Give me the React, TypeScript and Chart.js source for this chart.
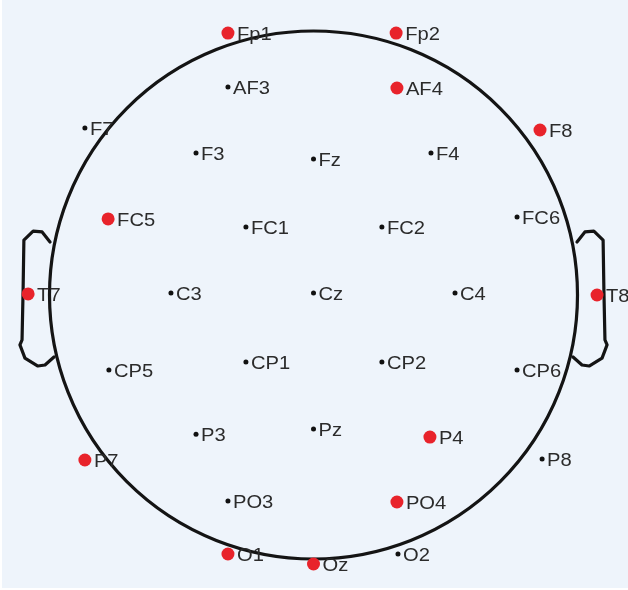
import React, { useEffect, useRef } from "react";
import { Chart, registerables } from "chart.js";

Chart.register(...registerables);

// Electrode layout (normalized head coordinates: centre 0,0, head radius 1, +y = front)
const electrodeNames = [
  "Fp1", "Fp2", "AF3", "AF4", "F7", "F3", "Fz", "F4", "F8",
  "FC5", "FC1", "FC2", "FC6", "T7", "C3", "Cz", "C4", "T8",
  "CP5", "CP1", "CP2", "CP6", "P7", "P3", "Pz", "P4", "P8",
  "PO3", "PO4", "O1", "Oz", "O2",
];
const electrodeX = [
  -0.324, 0.313, -0.324, 0.316, -0.866, -0.445, 0.0, 0.445, 0.858,
  -0.778, -0.256, 0.259, 0.771, -1.081, -0.540, 0.0, 0.536, 1.074,
  -0.775, -0.256, 0.259, 0.771, -0.866, -0.445, 0.0, 0.441, 0.866,
  -0.324, 0.316, -0.324, 0.0, 0.320,
];
const electrodeY = [
  0.992, 0.992, 0.788, 0.784, 0.633, 0.538, 0.515, 0.538, 0.625,
  0.288, 0.258, 0.258, 0.295, 0.004, 0.008, 0.008, 0.008, 0.0,
  -0.284, -0.254, -0.254, -0.284, -0.625, -0.527, -0.508, -0.538, -0.621,
  -0.780, -0.784, -0.981, -1.019, -0.981,
];
const selected = [
  1, 1, 0, 1, 0, 0, 0, 0, 1,
  1, 0, 0, 0, 1, 0, 0, 0, 1,
  0, 0, 0, 0, 1, 0, 0, 1, 0,
  0, 1, 1, 1, 0,
];

// Ear outline (left ear; right ear mirrored)
const earX = [-0.998, -1.028, -1.062, -1.097, -1.100, -1.104, -1.112, -1.093, -1.044, -1.017, -0.983];
const earY = [0.201, 0.239, 0.242, 0.208, 0.019, -0.170, -0.189, -0.239, -0.269, -0.265, -0.235];

const headRadius = 1;

export default function App() {
  const ref = useRef<HTMLCanvasElement | null>(null);

  useEffect(() => {
    if (!ref.current) return;
    const pts = (flag: number) =>
      electrodeNames
        .map((n, i) => ({ x: electrodeX[i], y: electrodeY[i], name: n, s: selected[i] }))
        .filter((p) => p.s === flag);

    const headPlugin = {
      id: "head",
      beforeDatasetsDraw(chart: any) {
        const { ctx, scales } = chart;
        const xs = scales.x, ys = scales.y;
        const cx = xs.getPixelForValue(0);
        const cy = ys.getPixelForValue(0);
        const r = xs.getPixelForValue(headRadius) - cx;
        ctx.save();
        ctx.strokeStyle = "#141414";
        ctx.lineWidth = 3.2;
        ctx.lineJoin = "round";
        ctx.lineCap = "round";
        for (const side of [-1, 1]) {
          ctx.beginPath();
          earX.forEach((ex, i) => {
            const px = xs.getPixelForValue(side === -1 ? ex : -ex);
            const py = ys.getPixelForValue(earY[i]);
            if (i === 0) ctx.moveTo(px, py);
            else ctx.lineTo(px, py);
          });
          ctx.stroke();
        }
        ctx.beginPath();
        ctx.arc(cx, cy, r, 0, Math.PI * 2);
        ctx.stroke();
        ctx.restore();
      },
      afterDatasetsDraw(chart: any) {
        const { ctx } = chart;
        ctx.save();
        ctx.fillStyle = "#2b2b2b";
        ctx.font = "18px 'Liberation Sans', Arial, sans-serif";
        ctx.textBaseline = "middle";
        chart.data.datasets.forEach((ds: any, di: number) => {
          const meta = chart.getDatasetMeta(di);
          meta.data.forEach((el: any, i: number) => {
            const r = ds.pointRadius;
            ctx.save();
            ctx.translate(el.x + r + 2.5, el.y + 2);
            ctx.scale(1.12, 1);
            ctx.fillText(ds.data[i].name, 0, 0);
            ctx.restore();
          });
        });
        ctx.restore();
      },
    };

    const chart = new Chart(ref.current, {
      type: "scatter",
      data: {
        datasets: [
          {
            label: "other",
            data: pts(0) as any,
            pointRadius: 2.5,
            pointBackgroundColor: "#111111",
            pointBorderWidth: 0,
            pointHoverRadius: 2.5,
          },
          {
            label: "selected",
            data: pts(1) as any,
            pointRadius: 6.5,
            pointBackgroundColor: "#e8232b",
            pointBorderWidth: 0,
            pointHoverRadius: 6.5,
          },
        ],
      },
      options: {
        animation: false,
        responsive: false,
        maintainAspectRatio: false,
        layout: { padding: 0, autoPadding: false },
        events: [],
        plugins: { legend: { display: false }, tooltip: { enabled: false } },
        scales: {
          x: { type: "linear", display: false, min: -313.5 / 264, max: (628 - 313.5) / 264 },
          y: { type: "linear", display: false, min: (295 - 590) / 264, max: 295 / 264 },
        },
      },
      plugins: [headPlugin],
    });
    return () => chart.destroy();
  }, []);

  return (
    <div
      style={{
        position: "fixed",
        left: 0,
        top: 0,
        width: 628,
        height: 590,
        background: "#eef4fb",
        boxShadow: "inset 2px -2px 0 #ffffff",
      }}
    >
      <canvas ref={ref} width={628} height={590} style={{ width: 628, height: 590, display: "block" }} />
    </div>
  );
}
